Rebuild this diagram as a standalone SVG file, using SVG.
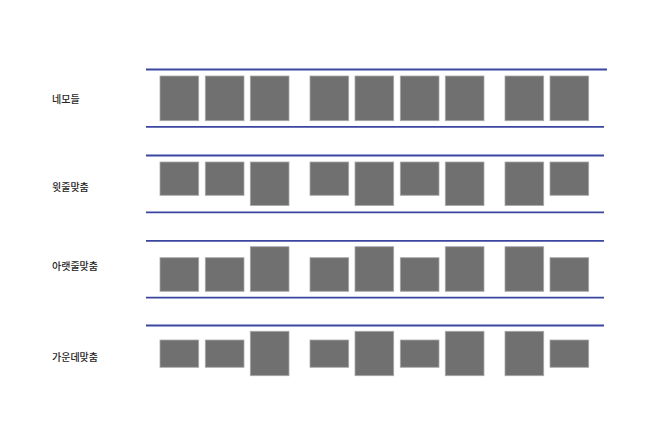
<svg xmlns="http://www.w3.org/2000/svg" width="660" height="436" viewBox="0 0 660 436">
<style>
.bg{fill:#ffffff}
.lbl{font-family:"Noto Sans CJK KR","Noto Sans",sans-serif;font-size:10px;font-weight:500;fill:#262626;dominant-baseline:central}
.ln{stroke:#3a46a0;stroke-width:1.8;fill:none}
.b{fill:#707070;stroke:#a8a8a8;stroke-width:0.8}
</style>
<rect class="bg" width="660" height="436"/>
<g id="labels">
<text class="lbl" x="52" y="98">네모들</text>
<text class="lbl" x="52" y="186.5">윗줄맞춤</text>
<text class="lbl" x="52" y="265">아랫줄맞춤</text>
<text class="lbl" x="52" y="356.5">가운데맞춤</text>
</g>
<g id="connectors">
<line class="ln" x1="146" y1="69.5" x2="607" y2="69.5"/>
<line class="ln" x1="146" y1="126.8" x2="604" y2="126.8"/>
<line class="ln" x1="146" y1="155.5" x2="604" y2="155.5"/>
<line class="ln" x1="146" y1="212.3" x2="604" y2="212.3"/>
<line class="ln" x1="146" y1="240.8" x2="604" y2="240.8"/>
<line class="ln" x1="146" y1="297.7" x2="604" y2="297.7"/>
<line class="ln" x1="146" y1="325.5" x2="604" y2="325.5"/>
</g>
<g id="row1">
<rect class="b" x="160" y="76" width="38.7" height="44.7"/>
<rect class="b" x="205.3" y="76" width="38.7" height="44.7"/>
<rect class="b" x="250.3" y="76" width="38.7" height="44.7"/>
<rect class="b" x="310" y="76" width="38.7" height="44.7"/>
<rect class="b" x="355" y="76" width="38.7" height="44.7"/>
<rect class="b" x="400.3" y="76" width="38.7" height="44.7"/>
<rect class="b" x="445.3" y="76" width="38.7" height="44.7"/>
<rect class="b" x="505" y="76" width="38.7" height="44.7"/>
<rect class="b" x="550" y="76" width="38.7" height="44.7"/>
</g>
<g id="row2">
<rect class="b" x="160" y="162" width="38.7" height="33.3"/>
<rect class="b" x="205.3" y="162" width="38.7" height="33.3"/>
<rect class="b" x="250.3" y="162" width="38.7" height="43.5"/>
<rect class="b" x="310" y="162" width="38.7" height="33.3"/>
<rect class="b" x="355" y="162" width="38.7" height="43.5"/>
<rect class="b" x="400.3" y="162" width="38.7" height="33.3"/>
<rect class="b" x="445.3" y="162" width="38.7" height="43.5"/>
<rect class="b" x="505" y="162" width="38.7" height="43.5"/>
<rect class="b" x="550" y="162" width="38.7" height="33.3"/>
</g>
<g id="row3">
<rect class="b" x="160" y="257.7" width="38.7" height="33.6"/>
<rect class="b" x="205.3" y="257.7" width="38.7" height="33.6"/>
<rect class="b" x="250.3" y="246.7" width="38.7" height="44.6"/>
<rect class="b" x="310" y="257.7" width="38.7" height="33.6"/>
<rect class="b" x="355" y="246.7" width="38.7" height="44.6"/>
<rect class="b" x="400.3" y="257.7" width="38.7" height="33.6"/>
<rect class="b" x="445.3" y="246.7" width="38.7" height="44.6"/>
<rect class="b" x="505" y="246.7" width="38.7" height="44.6"/>
<rect class="b" x="550" y="257.7" width="38.7" height="33.6"/>
</g>
<g id="row4">
<rect class="b" x="160" y="340" width="38.7" height="27.3"/>
<rect class="b" x="205.3" y="340" width="38.7" height="27.3"/>
<rect class="b" x="250.3" y="331.3" width="38.7" height="44.4"/>
<rect class="b" x="310" y="340" width="38.7" height="27.3"/>
<rect class="b" x="355" y="331.3" width="38.7" height="44.4"/>
<rect class="b" x="400.3" y="340" width="38.7" height="27.3"/>
<rect class="b" x="445.3" y="331.3" width="38.7" height="44.4"/>
<rect class="b" x="505" y="331.3" width="38.7" height="44.4"/>
<rect class="b" x="550" y="340" width="38.7" height="27.3"/>
</g>
</svg>
